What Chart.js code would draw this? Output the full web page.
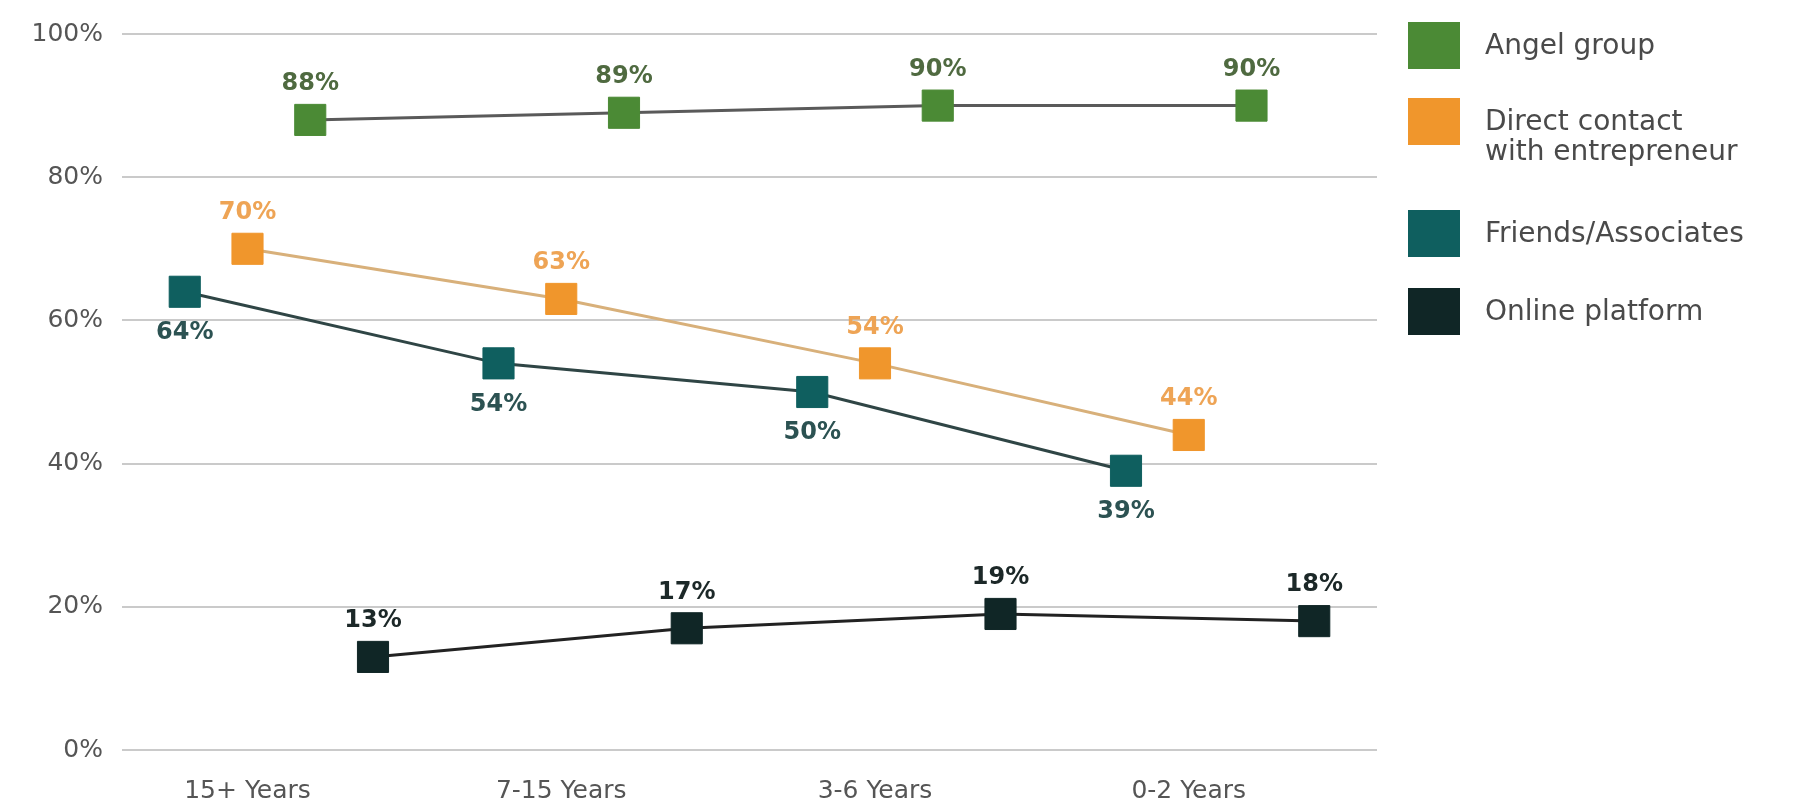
<!DOCTYPE html>
<html>
   <head>
      <title>Deal sourcing by investor experience</title>
      <meta charset="utf-8">
      <style>
         body { margin: 0; background: #fff; }
         .wrap { position: relative; width: 1819px; height: 806px; }
         #legend .item { position: absolute; left: 1408px; display: flex; align-items: flex-start; }
         #legend .swatch { width: 52px; height: 47px; flex: none; }
         #legend .text { margin-left: 25px; padding-top: 8px; font: 28px "DejaVu Sans", sans-serif; line-height: 30px; color: #4a4a4a; white-space: pre; }
      </style>
   </head>
   <body>
      <div class="wrap">
         <canvas id="sourceChart"></canvas>
         <div id="legend"></div>
      </div>

      <script src="https://cdn.jsdelivr.net/npm/chart.js@4/dist/chart.umd.min.js"></script>
      <script>
      // values (percent of investors) per experience band
      const categories = ['15+ Years', '7-15 Years', '3-6 Years', '0-2 Years'];
      const angelGroup = [88, 89, 90, 90];
      const directContact = [70, 63, 54, 44];
      const friendsAssociates = [64, 54, 50, 39];
      const onlinePlatform = [13, 17, 19, 18];
      const yTicks = [0, 20, 40, 60, 80, 100];

      // each series sits a little left/right of its category
      const series = [
         { label: 'Angel group', values: angelGroup, shift: 0.2, color: '#4b8a35', line: '#5a5a5a', text: '#4f6a40', below: false, top: 22 },
         { label: 'Direct contact\nwith entrepreneur', values: directContact, shift: 0, color: '#f0962c', line: '#d8b07a', text: '#eea455', below: false, top: 98 },
         { label: 'Friends/Associates', values: friendsAssociates, shift: -0.2, color: '#0f5f5f', line: '#2f4545', text: '#2c5252', below: true, top: 210 },
         { label: 'Online platform', values: onlinePlatform, shift: 0.4, color: '#102626', line: '#222', text: '#1c2828', below: false, top: 288 }
      ];

      const datasets = series.map(s => ({
         label: s.label,
         data: s.values.map((v, i) => ({ x: i + s.shift, y: v })),
         borderColor: s.line,
         borderWidth: 3,
         pointStyle: 'rect',
         pointRadius: 22,
         pointBackgroundColor: s.color,
         pointBorderColor: s.color,
         pointBorderWidth: 1,
         labelColor: s.text,
         labelBelow: s.below
      }));

      // percentage printed above (or below) each marker
      const valueLabels = {
         id: 'valueLabels',
         afterDatasetsDraw(chart) {
            const ctx = chart.ctx;
            chart.data.datasets.forEach((ds, i) => {
               const meta = chart.getDatasetMeta(i);
               ctx.save();
               ctx.font = 'bold 24px "DejaVu Sans"';
               ctx.fillStyle = ds.labelColor;
               ctx.textAlign = 'center';
               ctx.textBaseline = 'middle';
               meta.data.forEach((pt, j) => {
                  const dy = ds.labelBelow ? 41 : -36;
                  ctx.fillText(ds.data[j].y + '%', pt.x, pt.y + dy);
               });
               ctx.restore();
            });
         }
      };

      new Chart(document.getElementById('sourceChart'), {
         type: 'line',
         data: { datasets: datasets },
         options: {
            responsive: true,
            maintainAspectRatio: false,
            animation: false,
            layout: { padding: { top: 28, right: 442, left: 0, bottom: 0 } },
            plugins: { legend: { display: false }, tooltip: { enabled: false } },
            scales: {
               x: {
                  type: 'linear',
                  min: -0.4,
                  max: 3.6,
                  afterBuildTicks: (scale) => { scale.ticks = categories.map((c, i) => ({ value: i })); },
                  afterFit: (scale) => { scale.height = 56; },
                  grid: { display: false },
                  border: { display: false },
                  ticks: {
                     padding: 18,
                     color: '#555',
                     font: { family: 'DejaVu Sans', size: 25 },
                     callback: (v) => categories[v]
                  }
               },
               y: {
                  min: 0,
                  max: 100,
                  afterBuildTicks: (scale) => { scale.ticks = yTicks.map(v => ({ value: v })); },
                  afterFit: (scale) => { scale.width = 122; },
                  grid: { color: '#cacaca', lineWidth: 2, drawTicks: false },
                  border: { display: false },
                  ticks: {
                     padding: 19,
                     color: '#555',
                     font: { family: 'DejaVu Sans', size: 25 },
                     callback: (v) => v + '%'
                  }
               }
            }
         },
         plugins: [valueLabels]
      });

      // legend on the right
      const legend = document.getElementById('legend');
      series.forEach(s => {
         const item = document.createElement('div');
         item.className = 'item';
         item.style.top = s.top + 'px';
         const sw = document.createElement('div');
         sw.className = 'swatch';
         sw.style.background = s.color;
         const tx = document.createElement('div');
         tx.className = 'text';
         tx.textContent = s.label;
         item.appendChild(sw);
         item.appendChild(tx);
         legend.appendChild(item);
      });
      </script>
   </body>
</html>
